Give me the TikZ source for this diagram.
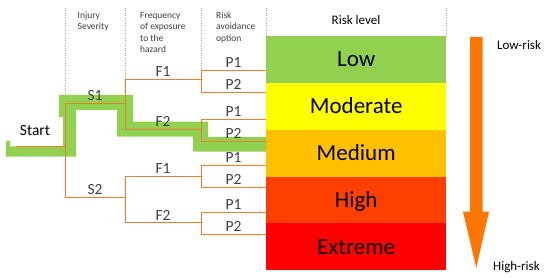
\documentclass[tikz,border=0pt]{standalone}
\usepackage{fontspec}
\setmainfont{Carlito}
\definecolor{treeorange}{HTML}{ED7D31}
\definecolor{pathgreen}{HTML}{92D050}
\definecolor{modyellow}{HTML}{FFFF00}
\definecolor{medamber}{HTML}{FFC000}
\definecolor{highred}{HTML}{FF3F00}
\definecolor{extred}{HTML}{FF0000}
\definecolor{arroworange}{HTML}{FF7700}
\definecolor{labelgray}{HTML}{404040}
\tikzset{
  branch/.style={draw=treeorange,line width=1pt},
  guide/.style={draw=gray!70,dotted,line width=0.5pt},
  lbl/.style={anchor=south,inner sep=0pt,yshift=2.5pt,text=labelgray,font=\fontsize{15.5}{18}\selectfont},
  colhead/.style={anchor=base west,align=left,inner sep=0pt,text=labelgray,font=\fontsize{9.5}{11.5}\selectfont},
  riskbox/.style={anchor=north west,minimum width=180pt,minimum height=46.8pt,inner sep=0pt,
    text height=14.5pt,text depth=0pt,font=\fontsize{23}{27}\selectfont},
}
\begin{document}
\begin{tikzpicture}[x=1pt,y=-1pt]
\useasboundingbox (0,0) rectangle (550,278);
% column guides
\draw[guide] (65,8) -- (65,103.3);
\draw[guide] (125,8) -- (125,80);
\draw[guide] (201,8) -- (201,71);
\draw[guide] (266,8) -- (266,36);
\draw[guide] (446,8) -- (446,36);
\node[colhead] (hsev) at (77.5,30) {Injury\\Severity};
\node[colhead] (hfreq) at (140,53) {Frequency\\of exposure\\to the\\hazard};
\node[colhead] (havoid) at (216,41.5) {Risk\\avoidance\\option};
\node[anchor=base,inner sep=0pt,font=\fontsize{13}{15}\selectfont] (hrisk) at (356,25) {Risk level};
% risk levels
\foreach \name/\col/\txt [count=\i from 0] in {low/pathgreen/Low,moderate/modyellow/Moderate,medium/medamber/Medium,high/highred/High,extreme/extred/Extreme}
  \node[riskbox,fill=\col] (\name) at (266,36+46.8*\i) {\txt};
% highlighted path
\fill[pathgreen] (6,141) -- (10,141) -- (10,146.5) -- (63,146.5) -- (63,117) -- (59,117) -- (59,95)
  -- (133,95) -- (133,121.7) -- (208,121.7) -- (208,137) -- (266,137) -- (266,151.7)
  -- (193,151.7) -- (193,136.7) -- (117,136.7) -- (117,110) -- (76,110) -- (76,156.7) -- (6,156.7) -- cycle;
% tree
\coordinate (start) at (16,147);
\coordinate (sev) at (65,147);
\coordinate (s1) at (125,103.3);
\coordinate (s2) at (125,198);
\coordinate (s1f1) at (201,80);
\coordinate (s1f2) at (201,130);
\coordinate (s2f1) at (201,177);
\coordinate (s2f2) at (201,223);
\node[anchor=base,inner sep=0pt,font=\fontsize{15.5}{18}\selectfont] (startlbl) at (35,135.7) {Start};
\draw[branch] (start) -- (sev);
\draw[branch] (sev) |- node[lbl,pos=0.75] {S1} (s1);
\draw[branch] (sev) |- node[lbl,pos=0.75] {S2} (s2);
\draw[branch] (s1) |- node[lbl,pos=0.75] {F1} (s1f1);
\draw[branch] (s1) |- node[lbl,pos=0.75] {F2} (s1f2);
\draw[branch] (s2) |- node[lbl,pos=0.75] {F1} (s2f1);
\draw[branch] (s2) |- node[lbl,pos=0.75] {F2} (s2f2);
\foreach \f/\ya/\yb in {s1f1/71/93,s1f2/120/142,s2f1/166/188,s2f2/213/235} {
  \coordinate (\f p1) at (266,\ya);
  \coordinate (\f p2) at (266,\yb);
  \draw[branch] (\f) |- node[lbl,pos=0.75] {P1} (\f p1);
  \draw[branch] (\f) |- node[lbl,pos=0.75] {P2} (\f p2);
}
% risk scale
\fill[arroworange] (470,37) -- (482.7,37) -- (482.7,211.7) -- (489,211.7) -- (476.3,268)
  -- (463,211.7) -- (470,211.7) -- cycle;
\node[anchor=base west,inner sep=0pt,font=\fontsize{13}{15}\selectfont] (lowrisk) at (497,50) {Low-risk};
\node[anchor=base west,inner sep=0pt,font=\fontsize{13}{15}\selectfont] (highrisk) at (493,270) {High-risk};
\end{tikzpicture}
\end{document}
